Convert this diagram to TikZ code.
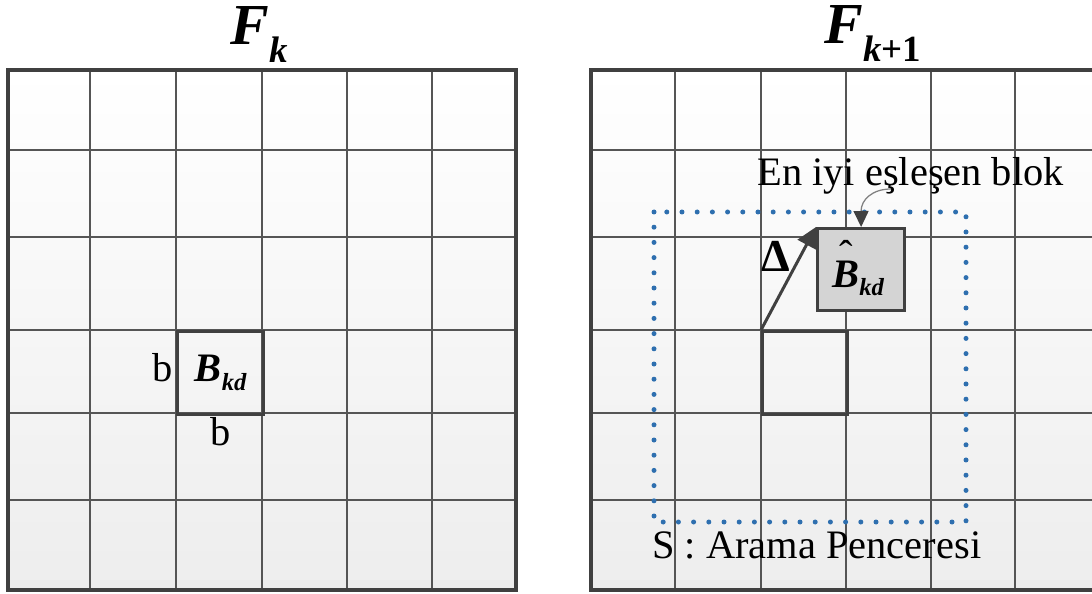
\documentclass[tikz,border=0pt]{standalone}
\usepackage{fontspec}
\setmainfont{Liberation Serif}
\usetikzlibrary{arrows.meta, positioning}

\definecolor{framegray}{HTML}{404040}
\definecolor{linegray}{HTML}{555555}
\definecolor{winblue}{HTML}{2E6FAF}

\begin{document}
\begin{tikzpicture}[
    x=0.2mm, y=-0.2mm,
    every node/.style={font=\fontsize{23}{26}\selectfont, inner sep=0pt},
    frame/.style={draw=framegray, line width=0.7mm},
    gridline/.style={draw=linegray, line width=0.35mm},
    block/.style={rectangle, draw=framegray, line width=0.65mm, anchor=north west},
    title/.style={font=\fontsize{33}{36}\selectfont\bfseries\itshape, anchor=base west},
    window/.style={draw=winblue, line width=1mm, line cap=round, dash pattern=on 0pt off 3.04mm},
    motion/.style={-{Triangle[length=4mm, width=4mm]}, draw=framegray, line width=0.6mm},
    pointer/.style={-{Triangle[length=3.2mm, width=3mm, color=framegray]}, draw=gray, line width=0.25mm}
]
\clip (0,0) rectangle (1092,594);

% ============ FRAME F_k (LEFT) ============
\shade[top color=white, bottom color=black!7] (8,70) rectangle (516,590);
\foreach \x in {90,176,262,347,432}
    \draw[gridline] (\x,70) -- (\x,590);
\foreach \y in {150,237,330,413,500}
    \draw[gridline] (8,\y) -- (516,\y);
\draw[frame] (8,70) rectangle (516,590);

\node[title] (fk) at (230,45) {F\raisebox{-10pt}{\fontsize{21}{22}\selectfont k}};

% Current block
\node[block, minimum width=17.2mm, minimum height=16.6mm] (lblock) at (176,330)
    {\bfseries\itshape B\raisebox{-5pt}{\fontsize{14}{15}\selectfont kd}};
\node (bleft) at (163,368) {b};
\node (bbelow) at (221,432) {b};

% ============ FRAME F_{k+1} (RIGHT) ============
\shade[top color=white, bottom color=black!7] (591,70) rectangle (1100,590);
\foreach \x in {675,761,846,931,1015}
    \draw[gridline] (\x,70) -- (\x,590);
\foreach \y in {150,237,330,413,500}
    \draw[gridline] (591,\y) -- (1100,\y);
\draw[frame] (591,70) rectangle (1100,590);

\node[title] (fk1) at (824,44) {F\raisebox{-10pt}{\fontsize{21}{22}\selectfont k\upshape+1}};

% Search window
\draw[window] (654,212) rectangle (966,522);
\node[anchor=base west] (swin) at (652,558) {S : Arama Penceresi};

% Same position and best match
\node[block, minimum width=17mm, minimum height=16.6mm] (rblock) at (761,330) {};
\node[block, fill=black!17, minimum width=17.4mm, minimum height=16.4mm] (best) at (816,227) {};
\node[anchor=base west, font=\fontsize{23}{26}\selectfont\bfseries\itshape] (besttxt) at (832,287)
    {\ooalign{B\cr\hidewidth\raisebox{0.45em}{\mdseries\upshape ˆ}\hidewidth\cr}\raisebox{-5pt}{\fontsize{14}{15}\selectfont kd}};

% Motion vector
\draw[motion] (rblock.north west) -- (best.north west);
\node[font=\fontsize{26}{28}\selectfont\bfseries] (delta) at (776,256) {Δ};

% Best match label
\node[anchor=base west] (bestlbl) at (757,185) {En iyi eşleşen blok};
\coordinate (ptr) at (891,189);
\draw[pointer] (ptr) .. controls (872,189) and (861,200) .. (best.north);

\end{tikzpicture}
\end{document}
